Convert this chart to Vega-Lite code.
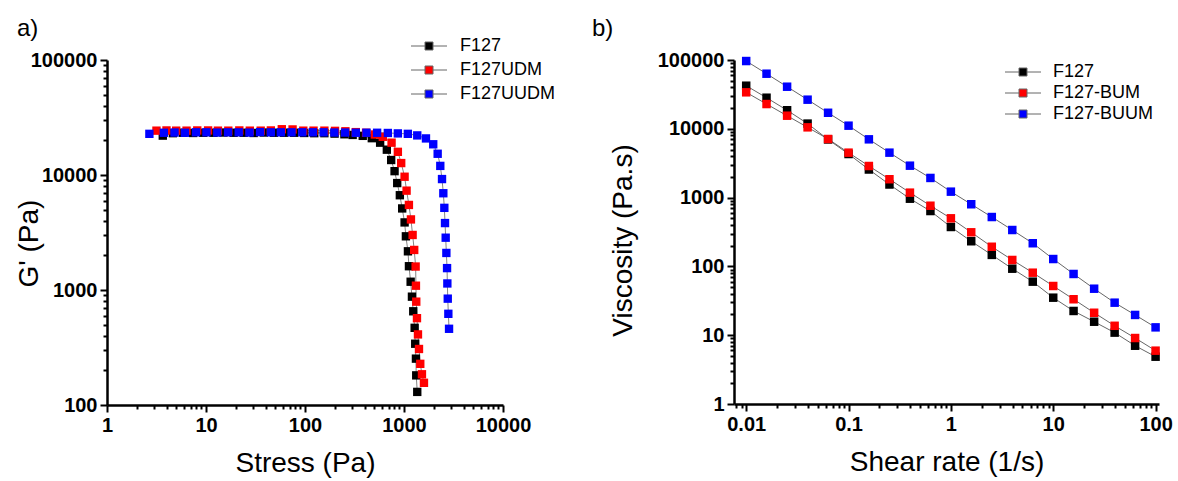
{
  "$schema": "https://vega.github.io/schema/vega-lite/v6.json",
  "padding": {"left": 15, "top": 17, "right": 5, "bottom": 4},
  "background": "white",
  "spacing": 36,
  "config": {
    "view": {"stroke": null},
    "font": "Liberation Sans",
    "axis": {
      "grid": false,
      "domainColor": "black",
      "domainWidth": 2.5,
      "tickColor": "black",
      "tickWidth": 2,
      "labelFont": "Liberation Sans",
      "labelFontWeight": "bold",
      "labelFontSize": 20,
      "labelColor": "black",
      "labelOverlap": false,
      "labelFlush": false,
      "labelPadding": 3,
      "titleFont": "Liberation Sans",
      "titleFontWeight": "normal",
      "titleFontSize": 28,
      "titleColor": "black"
    },
    "legend": {
      "labelFont": "Liberation Sans",
      "labelFontSize": 18,
      "labelColor": "black",
      "title": null
    },
    "title": {"font": "Liberation Sans", "fontSize": 24, "fontWeight": "normal", "color": "black"}
  },
  "datasets": {
    "amp": [
      {"sample": "F127", "stress": 3.66, "g": 22000},
      {"sample": "F127", "stress": 4.63, "g": 23100},
      {"sample": "F127", "stress": 5.86, "g": 23300},
      {"sample": "F127", "stress": 7.41, "g": 23200},
      {"sample": "F127", "stress": 9.38, "g": 23300},
      {"sample": "F127", "stress": 11.9, "g": 23300},
      {"sample": "F127", "stress": 15.0, "g": 23400},
      {"sample": "F127", "stress": 19.0, "g": 23300},
      {"sample": "F127", "stress": 24.0, "g": 23300},
      {"sample": "F127", "stress": 30.3, "g": 23200},
      {"sample": "F127", "stress": 38.4, "g": 23400},
      {"sample": "F127", "stress": 48.5, "g": 23300},
      {"sample": "F127", "stress": 61.4, "g": 23300},
      {"sample": "F127", "stress": 77.6, "g": 23300},
      {"sample": "F127", "stress": 98.2, "g": 23200},
      {"sample": "F127", "stress": 124, "g": 23100},
      {"sample": "F127", "stress": 157, "g": 23100},
      {"sample": "F127", "stress": 199, "g": 22900},
      {"sample": "F127", "stress": 250, "g": 22600},
      {"sample": "F127", "stress": 303, "g": 22300},
      {"sample": "F127", "stress": 383, "g": 21900},
      {"sample": "F127", "stress": 473, "g": 20900},
      {"sample": "F127", "stress": 574, "g": 19100},
      {"sample": "F127", "stress": 671, "g": 16600},
      {"sample": "F127", "stress": 742, "g": 13500},
      {"sample": "F127", "stress": 803, "g": 10800},
      {"sample": "F127", "stress": 854, "g": 8510},
      {"sample": "F127", "stress": 908, "g": 6670},
      {"sample": "F127", "stress": 959, "g": 5120},
      {"sample": "F127", "stress": 1014, "g": 3870},
      {"sample": "F127", "stress": 1045, "g": 2930},
      {"sample": "F127", "stress": 1096, "g": 2170},
      {"sample": "F127", "stress": 1122, "g": 1610},
      {"sample": "F127", "stress": 1167, "g": 1180},
      {"sample": "F127", "stress": 1203, "g": 875},
      {"sample": "F127", "stress": 1240, "g": 653},
      {"sample": "F127", "stress": 1281, "g": 469},
      {"sample": "F127", "stress": 1298, "g": 341},
      {"sample": "F127", "stress": 1320, "g": 253},
      {"sample": "F127", "stress": 1329, "g": 181},
      {"sample": "F127", "stress": 1361, "g": 130},
      {"sample": "F127UDM", "stress": 3.16, "g": 24300},
      {"sample": "F127UDM", "stress": 3.99, "g": 24400},
      {"sample": "F127UDM", "stress": 5.00, "g": 24300},
      {"sample": "F127UDM", "stress": 6.36, "g": 24300},
      {"sample": "F127UDM", "stress": 8.16, "g": 24400},
      {"sample": "F127UDM", "stress": 10.5, "g": 24400},
      {"sample": "F127UDM", "stress": 13.2, "g": 24300},
      {"sample": "F127UDM", "stress": 16.8, "g": 24300},
      {"sample": "F127UDM", "stress": 21.7, "g": 24400},
      {"sample": "F127UDM", "stress": 27.7, "g": 24300},
      {"sample": "F127UDM", "stress": 35.7, "g": 24300},
      {"sample": "F127UDM", "stress": 45.2, "g": 24400},
      {"sample": "F127UDM", "stress": 58.3, "g": 25000},
      {"sample": "F127UDM", "stress": 74.9, "g": 24900},
      {"sample": "F127UDM", "stress": 96.1, "g": 24300},
      {"sample": "F127UDM", "stress": 122, "g": 24300},
      {"sample": "F127UDM", "stress": 157, "g": 24300},
      {"sample": "F127UDM", "stress": 201, "g": 24200},
      {"sample": "F127UDM", "stress": 256, "g": 24000},
      {"sample": "F127UDM", "stress": 326, "g": 23600},
      {"sample": "F127UDM", "stress": 414, "g": 23300},
      {"sample": "F127UDM", "stress": 507, "g": 22500},
      {"sample": "F127UDM", "stress": 611, "g": 21500},
      {"sample": "F127UDM", "stress": 749, "g": 19100},
      {"sample": "F127UDM", "stress": 867, "g": 15900},
      {"sample": "F127UDM", "stress": 937, "g": 12700},
      {"sample": "F127UDM", "stress": 1014, "g": 9660},
      {"sample": "F127UDM", "stress": 1062, "g": 7310},
      {"sample": "F127UDM", "stress": 1121, "g": 5490},
      {"sample": "F127UDM", "stress": 1175, "g": 4110},
      {"sample": "F127UDM", "stress": 1222, "g": 3010},
      {"sample": "F127UDM", "stress": 1268, "g": 2230},
      {"sample": "F127UDM", "stress": 1311, "g": 1600},
      {"sample": "F127UDM", "stress": 1320, "g": 1090},
      {"sample": "F127UDM", "stress": 1330, "g": 792},
      {"sample": "F127UDM", "stress": 1352, "g": 569},
      {"sample": "F127UDM", "stress": 1384, "g": 411},
      {"sample": "F127UDM", "stress": 1417, "g": 307},
      {"sample": "F127UDM", "stress": 1460, "g": 228},
      {"sample": "F127UDM", "stress": 1518, "g": 185},
      {"sample": "F127UDM", "stress": 1591, "g": 156},
      {"sample": "F127UUDM", "stress": 2.68, "g": 22800},
      {"sample": "F127UUDM", "stress": 3.75, "g": 23300},
      {"sample": "F127UUDM", "stress": 4.81, "g": 23400},
      {"sample": "F127UUDM", "stress": 6.13, "g": 23300},
      {"sample": "F127UUDM", "stress": 7.92, "g": 23500},
      {"sample": "F127UUDM", "stress": 10.1, "g": 23500},
      {"sample": "F127UUDM", "stress": 13.0, "g": 23400},
      {"sample": "F127UUDM", "stress": 16.7, "g": 23500},
      {"sample": "F127UUDM", "stress": 21.4, "g": 23500},
      {"sample": "F127UUDM", "stress": 27.5, "g": 23400},
      {"sample": "F127UUDM", "stress": 35.2, "g": 23600},
      {"sample": "F127UUDM", "stress": 45.2, "g": 23500},
      {"sample": "F127UUDM", "stress": 57.0, "g": 23500},
      {"sample": "F127UUDM", "stress": 73.1, "g": 23500},
      {"sample": "F127UUDM", "stress": 93.9, "g": 23500},
      {"sample": "F127UUDM", "stress": 120, "g": 23500},
      {"sample": "F127UUDM", "stress": 154, "g": 23500},
      {"sample": "F127UUDM", "stress": 198, "g": 23400},
      {"sample": "F127UUDM", "stress": 254, "g": 23400},
      {"sample": "F127UUDM", "stress": 326, "g": 23300},
      {"sample": "F127UUDM", "stress": 418, "g": 23300},
      {"sample": "F127UUDM", "stress": 535, "g": 23300},
      {"sample": "F127UUDM", "stress": 687, "g": 23200},
      {"sample": "F127UUDM", "stress": 867, "g": 23000},
      {"sample": "F127UUDM", "stress": 1094, "g": 22800},
      {"sample": "F127UUDM", "stress": 1361, "g": 22100},
      {"sample": "F127UUDM", "stress": 1667, "g": 20800},
      {"sample": "F127UUDM", "stress": 1974, "g": 18500},
      {"sample": "F127UUDM", "stress": 2188, "g": 15300},
      {"sample": "F127UUDM", "stress": 2326, "g": 12000},
      {"sample": "F127UUDM", "stress": 2421, "g": 9220},
      {"sample": "F127UUDM", "stress": 2496, "g": 6940},
      {"sample": "F127UUDM", "stress": 2555, "g": 5180},
      {"sample": "F127UUDM", "stress": 2596, "g": 3820},
      {"sample": "F127UUDM", "stress": 2637, "g": 2850},
      {"sample": "F127UUDM", "stress": 2679, "g": 2100},
      {"sample": "F127UUDM", "stress": 2722, "g": 1550},
      {"sample": "F127UUDM", "stress": 2741, "g": 1140},
      {"sample": "F127UUDM", "stress": 2767, "g": 841},
      {"sample": "F127UUDM", "stress": 2805, "g": 621},
      {"sample": "F127UUDM", "stress": 2851, "g": 460}
    ],
    "visc": [
      {"sample": "F127", "rate": 0.01, "v": 42300},
      {"sample": "F127", "rate": 0.0158, "v": 28300},
      {"sample": "F127", "rate": 0.0251, "v": 18600},
      {"sample": "F127", "rate": 0.0398, "v": 11900},
      {"sample": "F127", "rate": 0.0631, "v": 7000},
      {"sample": "F127", "rate": 0.1, "v": 4300},
      {"sample": "F127", "rate": 0.158, "v": 2560},
      {"sample": "F127", "rate": 0.251, "v": 1550},
      {"sample": "F127", "rate": 0.398, "v": 964},
      {"sample": "F127", "rate": 0.631, "v": 638},
      {"sample": "F127", "rate": 1, "v": 374},
      {"sample": "F127", "rate": 1.58, "v": 232},
      {"sample": "F127", "rate": 2.51, "v": 147},
      {"sample": "F127", "rate": 3.98, "v": 92.6},
      {"sample": "F127", "rate": 6.31, "v": 60},
      {"sample": "F127", "rate": 10, "v": 35.1},
      {"sample": "F127", "rate": 15.8, "v": 22.5},
      {"sample": "F127", "rate": 25.1, "v": 15.7},
      {"sample": "F127", "rate": 39.8, "v": 10.9},
      {"sample": "F127", "rate": 63.1, "v": 7.03},
      {"sample": "F127", "rate": 100, "v": 4.87},
      {"sample": "F127-BUM", "rate": 0.01, "v": 33900},
      {"sample": "F127-BUM", "rate": 0.0158, "v": 22900},
      {"sample": "F127-BUM", "rate": 0.0251, "v": 15500},
      {"sample": "F127-BUM", "rate": 0.0398, "v": 10500},
      {"sample": "F127-BUM", "rate": 0.0631, "v": 7110},
      {"sample": "F127-BUM", "rate": 0.1, "v": 4500},
      {"sample": "F127-BUM", "rate": 0.158, "v": 2880},
      {"sample": "F127-BUM", "rate": 0.251, "v": 1850},
      {"sample": "F127-BUM", "rate": 0.398, "v": 1180},
      {"sample": "F127-BUM", "rate": 0.631, "v": 762},
      {"sample": "F127-BUM", "rate": 1, "v": 500},
      {"sample": "F127-BUM", "rate": 1.58, "v": 313},
      {"sample": "F127-BUM", "rate": 2.51, "v": 193},
      {"sample": "F127-BUM", "rate": 3.98, "v": 124},
      {"sample": "F127-BUM", "rate": 6.31, "v": 81},
      {"sample": "F127-BUM", "rate": 10, "v": 51.9},
      {"sample": "F127-BUM", "rate": 15.8, "v": 33.3},
      {"sample": "F127-BUM", "rate": 25.1, "v": 21.2},
      {"sample": "F127-BUM", "rate": 39.8, "v": 13.7},
      {"sample": "F127-BUM", "rate": 63.1, "v": 9.1},
      {"sample": "F127-BUM", "rate": 100, "v": 5.96},
      {"sample": "F127-BUUM", "rate": 0.01, "v": 96600},
      {"sample": "F127-BUUM", "rate": 0.0158, "v": 63200},
      {"sample": "F127-BUUM", "rate": 0.0251, "v": 40900},
      {"sample": "F127-BUUM", "rate": 0.0398, "v": 26500},
      {"sample": "F127-BUUM", "rate": 0.0631, "v": 17100},
      {"sample": "F127-BUUM", "rate": 0.1, "v": 11100},
      {"sample": "F127-BUUM", "rate": 0.158, "v": 7030},
      {"sample": "F127-BUUM", "rate": 0.251, "v": 4500},
      {"sample": "F127-BUUM", "rate": 0.398, "v": 2910},
      {"sample": "F127-BUUM", "rate": 0.631, "v": 1930},
      {"sample": "F127-BUUM", "rate": 1, "v": 1220},
      {"sample": "F127-BUUM", "rate": 1.58, "v": 800},
      {"sample": "F127-BUUM", "rate": 2.51, "v": 522},
      {"sample": "F127-BUUM", "rate": 3.98, "v": 338},
      {"sample": "F127-BUUM", "rate": 6.31, "v": 217},
      {"sample": "F127-BUUM", "rate": 10, "v": 128},
      {"sample": "F127-BUUM", "rate": 15.8, "v": 77.6},
      {"sample": "F127-BUUM", "rate": 25.1, "v": 47.4},
      {"sample": "F127-BUUM", "rate": 39.8, "v": 29.7},
      {"sample": "F127-BUUM", "rate": 63.1, "v": 19.7},
      {"sample": "F127-BUUM", "rate": 100, "v": 13.0}
    ]
  },
  "resolve": {"scale": {"color": "independent"}, "legend": {"color": "independent"}},
  "hconcat": [
    {
      "width": 396,
      "height": 345,
      "title": {"text": "a)", "anchor": "start", "frame": "bounds", "dx": 2, "offset": -4},
      "data": {"name": "amp"},
      "layer": [
        {
          "mark": {"type": "line", "color": "#666", "strokeWidth": 0.8},
          "encoding": {
            "x": {"field": "stress", "type": "quantitative"},
            "y": {"field": "g", "type": "quantitative"},
            "detail": {"field": "sample"}
          }
        },
        {
          "mark": {"type": "point", "shape": "square", "filled": true, "size": 70, "opacity": 1},
          "encoding": {
            "x": {
              "field": "stress", "type": "quantitative",
              "scale": {"type": "log", "domain": [1, 10000], "nice": false},
              "axis": {
                "title": "Stress (Pa)",
                "values": [1,2,3,4,5,6,7,8,9,10,20,30,40,50,60,70,80,90,100,200,300,400,500,600,700,800,900,1000,2000,3000,4000,5000,6000,7000,8000,9000,10000],
                "labelExpr": "abs(log(datum.value)/LN10 - round(log(datum.value)/LN10)) < 0.001 ? format(datum.value, '') : ''",
                "tickSize": {"condition": {"test": "abs(log(datum.value)/LN10 - round(log(datum.value)/LN10)) < 0.001", "value": 7}, "value": 4},
                "titlePadding": 14
              }
            },
            "y": {
              "field": "g", "type": "quantitative",
              "scale": {"type": "log", "domain": [100, 100000], "nice": false},
              "axis": {
                "title": "G' (Pa)",
                "values": [100,200,300,400,500,600,700,800,900,1000,2000,3000,4000,5000,6000,7000,8000,9000,10000,20000,30000,40000,50000,60000,70000,80000,90000,100000],
                "labelExpr": "abs(log(datum.value)/LN10 - round(log(datum.value)/LN10)) < 0.001 ? format(datum.value, '') : ''",
                "tickSize": {"condition": {"test": "abs(log(datum.value)/LN10 - round(log(datum.value)/LN10)) < 0.001", "value": 7}, "value": 4},
                "titleX": -64,
                "titleY": 183
              }
            },
            "color": {
              "field": "sample", "type": "nominal",
              "scale": {"domain": ["F127", "F127UDM", "F127UUDM"], "range": ["#000000", "#ff0000", "#0000ff"]},
              "legend": {
                "orient": "none", "legendX": 313, "legendY": -23,
                "symbolType": "M-3.6,0H-0.8M0.8,0H3.6M-0.8,-0.8H0.8V0.8H-0.8Z",
                "symbolSize": 100,
                "symbolStrokeColor": "#666",
                "symbolStrokeWidth": 1,
                "labelOffset": 22,
                "rowPadding": 6
              }
            }
          }
        }
      ]
    },
    {
      "width": 425,
      "height": 344,
      "title": {"text": "b)", "anchor": "start", "frame": "bounds", "dx": -17, "offset": 9},
      "data": {"name": "visc"},
      "layer": [
        {
          "mark": {"type": "line", "color": "#666", "strokeWidth": 1},
          "encoding": {
            "x": {"field": "rate", "type": "quantitative"},
            "y": {"field": "v", "type": "quantitative"},
            "detail": {"field": "sample"}
          }
        },
        {
          "mark": {"type": "point", "shape": "square", "filled": true, "size": 72, "opacity": 1},
          "encoding": {
            "x": {
              "field": "rate", "type": "quantitative",
              "scale": {"type": "log", "domain": [0.0076, 108], "nice": false},
              "axis": {
                "title": "Shear rate (1/s)",
                "values": [0.008,0.009,0.01,0.02,0.03,0.04,0.05,0.06,0.07,0.08,0.09,0.1,0.2,0.3,0.4,0.5,0.6,0.7,0.8,0.9,1,2,3,4,5,6,7,8,9,10,20,30,40,50,60,70,80,90,100],
                "labelExpr": "abs(log(datum.value)/LN10 - round(log(datum.value)/LN10)) < 0.001 ? format(datum.value, '') : ''",
                "tickSize": {"condition": {"test": "abs(log(datum.value)/LN10 - round(log(datum.value)/LN10)) < 0.001", "value": 7}, "value": 4},
                "titlePadding": 14
              }
            },
            "y": {
              "field": "v", "type": "quantitative",
              "scale": {"type": "log", "domain": [1, 100000], "nice": false},
              "axis": {
                "title": "Viscosity (Pa.s)",
                "values": [1,2,3,4,5,6,7,8,9,10,20,30,40,50,60,70,80,90,100,200,300,400,500,600,700,800,900,1000,2000,3000,4000,5000,6000,7000,8000,9000,10000,20000,30000,40000,50000,60000,70000,80000,90000,100000],
                "labelExpr": "abs(log(datum.value)/LN10 - round(log(datum.value)/LN10)) < 0.001 ? format(datum.value, '') : ''",
                "tickSize": {"condition": {"test": "abs(log(datum.value)/LN10 - round(log(datum.value)/LN10)) < 0.001", "value": 7}, "value": 4},
                "titleX": -97,
                "titleY": 180
              }
            },
            "color": {
              "field": "sample", "type": "nominal",
              "scale": {"domain": ["F127", "F127-BUM", "F127-BUUM"], "range": ["#000000", "#ff0000", "#0000ff"]},
              "legend": {
                "orient": "none", "legendX": 280, "legendY": 3,
                "symbolType": "M-3.6,0H-0.8M0.8,0H3.6M-0.8,-0.8H0.8V0.8H-0.8Z",
                "symbolSize": 100,
                "symbolStrokeColor": "#666",
                "symbolStrokeWidth": 1,
                "labelOffset": 21,
                "rowPadding": 3
              }
            }
          }
        }
      ]
    }
  ]
}
